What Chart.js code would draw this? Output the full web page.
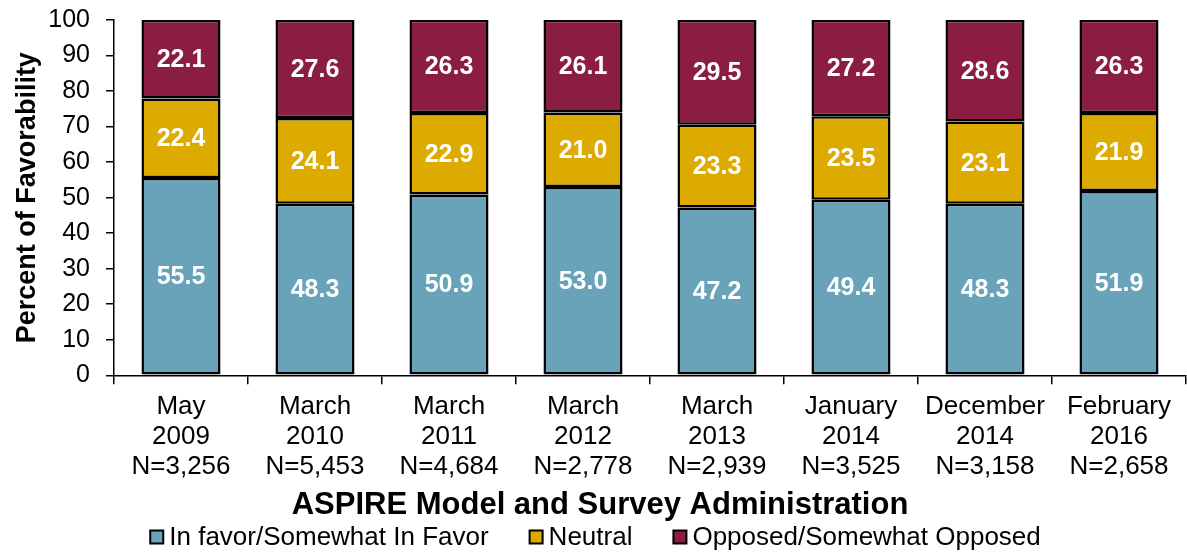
<!DOCTYPE html>
<html>
<head>
<meta charset="utf-8">
<script src="https://cdn.jsdelivr.net/npm/chart.js@4.4.0/dist/chart.umd.min.js"></script>
<style>
  html, body { margin: 0; padding: 0; background: #fff; }
  #wrap { width: 1187px; height: 552px; }
</style>
</head>
<body>
<div id="wrap"><canvas id="chart" width="1187" height="552"></canvas></div>
<script>
// categories: month, year, sample size
const categories = [
  ['May', '2009', 'N=3,256'],
  ['March', '2010', 'N=5,453'],
  ['March', '2011', 'N=4,684'],
  ['March', '2012', 'N=2,778'],
  ['March', '2013', 'N=2,939'],
  ['January', '2014', 'N=3,525'],
  ['December', '2014', 'N=3,158'],
  ['February', '2016', 'N=2,658']
];
const inFavor = [55.5, 48.3, 50.9, 53.0, 47.2, 49.4, 48.3, 51.9];
const neutral = [22.4, 24.1, 22.9, 21.0, 23.3, 23.5, 23.1, 21.9];
const opposed = [22.1, 27.6, 26.3, 26.1, 29.5, 27.2, 28.6, 26.3];
const yTicks = [0, 10, 20, 30, 40, 50, 60, 70, 80, 90, 100];

const FONT = "'Liberation Sans', Arial, sans-serif";

// draw the values inside each segment
const segLabels = {
  id: 'segLabels',
  afterDatasetsDraw(chart) {
    const ctx = chart.ctx;
    ctx.save();
    ctx.fillStyle = '#fff';
    ctx.font = 'bold 25px ' + FONT;
    ctx.textAlign = 'center';
    ctx.textBaseline = 'middle';
    chart.data.datasets.forEach((ds, di) => {
      chart.getDatasetMeta(di).data.forEach((bar, i) => {
        const y = (bar.y + bar.base) / 2;
        ctx.fillText(ds.data[i].toFixed(1), bar.x, y + 1);
      });
    });
    ctx.restore();
  }
};

// legend like the excel one: small boxes, tight text gap
const bottomLegend = {
  id: 'bottomLegend',
  afterDraw(chart) {
    const ctx = chart.ctx;
    const box = 13, gap = 6, itemGap = 41, cy = 537;
    ctx.save();
    ctx.font = '26px ' + FONT;
    ctx.textBaseline = 'middle';
    const items = chart.data.datasets.map(ds => ({ text: ds.label, color: ds.backgroundColor, w: ctx.measureText(ds.label).width }));
    let total = items.reduce((s, it) => s + box + gap + it.w, 0) + itemGap * (items.length - 1);
    let x = (chart.width - total) / 2 + 2;
    items.forEach(it => {
      ctx.fillStyle = it.color;
      ctx.strokeStyle = '#000';
      ctx.lineWidth = 2;
      ctx.fillRect(x, cy - box / 2, box, box);
      ctx.strokeRect(x, cy - box / 2, box, box);
      ctx.fillStyle = '#000';
      ctx.fillText(it.text, x + box + gap, cy + 1);
      x += box + gap + it.w + itemGap;
    });
    ctx.restore();
  }
};

const mk = (label, data, color) => ({
  label, data,
  backgroundColor: color,
  borderColor: '#000',
  borderWidth: 2.5,
  borderSkipped: false,
  barPercentage: 0.59,
  categoryPercentage: 1.0
});

new Chart(document.getElementById('chart'), {
  type: 'bar',
  data: {
    labels: categories,
    datasets: [
      mk('In favor/Somewhat In Favor', inFavor, '#68A3B9'),
      mk('Neutral', neutral, '#DDAA00'),
      mk('Opposed/Somewhat Opposed', opposed, '#8B1D41')
    ]
  },
  options: {
    responsive: false,
    animation: false,
    layout: { padding: { top: 0, right: 1, left: 14, bottom: 31 } },
    scales: {
      x: {
        stacked: true,
        border: { color: '#000', width: 1.5 },
        grid: { display: true, drawOnChartArea: false, drawTicks: true, tickLength: 9, color: '#000', lineWidth: 1.5, offset: true },
        ticks: { color: '#000', font: { family: FONT, size: 26, lineHeight: 1.15 }, padding: 8, maxRotation: 0, autoSkip: false }
      },
      y: {
        stacked: true,
        min: 0, max: 100,
        afterBuildTicks: (axis) => { axis.ticks = yTicks.map(v => ({ value: v })); },
        afterFit: (axis) => { axis.width = 100; axis.paddingTop = 20; },
        border: { color: '#000', width: 1.5 },
        grid: { display: true, drawOnChartArea: false, drawTicks: true, tickLength: 8, color: '#000', lineWidth: 1.5 },
        ticks: { color: '#000', font: { family: FONT, size: 25 }, padding: 16, autoSkip: false },
        title: { display: true, text: 'Percent of Favorability', color: '#000',
                 font: { family: FONT, size: 27, weight: 'bold', lineHeight: 1.0 }, padding: { top: 0, bottom: 7 } }
      }
    },
    plugins: {
      tooltip: { enabled: false },
      legend: { display: false },
      title: {
        display: true, position: 'bottom',
        text: 'ASPIRE Model and Survey Administration', color: '#000',
        font: { family: FONT, size: 31, weight: 'bold', lineHeight: 1.0 }, padding: { top: 0, bottom: 0 }
      }
    }
  },
  plugins: [segLabels, bottomLegend]
});
</script>
</body>
</html>
